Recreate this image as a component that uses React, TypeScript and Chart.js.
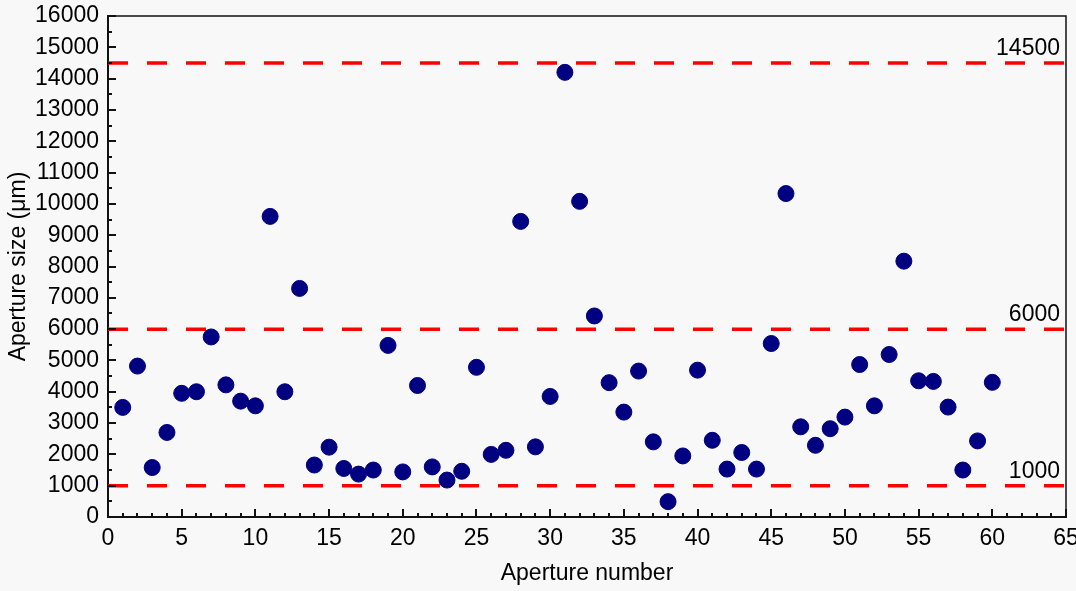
import React, { useEffect, useRef } from "react";
import { Chart, registerables } from "chart.js";

Chart.register(...registerables);

const apertureNumbers = [
  1, 2, 3, 4, 5, 6, 7, 8, 9, 10, 11, 12, 13, 14, 15, 16, 17, 18, 19, 20,
  21, 22, 23, 24, 25, 26, 27, 28, 29, 30, 31, 32, 33, 34, 35, 36, 37, 38, 39, 40,
  41, 42, 43, 44, 45, 46, 47, 48, 49, 50, 51, 52, 53, 54, 55, 56, 57, 58, 59, 60,
];
const apertureSizes = [
  3500, 4820, 1580, 2700, 3950, 4000, 5750, 4220, 3700, 3550,
  9600, 4000, 7300, 1660, 2230, 1550, 1370, 1500, 5480, 1440,
  4200, 1600, 1180, 1460, 4780, 2000, 2130, 9440, 2240, 3850,
  14200, 10080, 6420, 4290, 3350, 4660, 2400, 490, 1950, 4690,
  2450, 1530, 2060, 1530, 5540, 10330, 2880, 2290, 2820, 3190,
  4870, 3550, 5190, 8170, 4350, 4330, 3510, 1500, 2430, 4300,
];
const thresholdValues = [14500, 6000, 1000];
const thresholdLabels = ["14500", "6000", "1000"];
const xRange = [0, 65];
const yRange = [0, 16000];

const FONT = "'Liberation Sans', Arial, sans-serif";

const framePlugin = {
  id: "framePlugin",
  beforeDraw(chart: any) {
    const { ctx } = chart;
    ctx.save();
    ctx.fillStyle = "#f8f8f8";
    ctx.fillRect(0, 0, chart.width, chart.height);
    ctx.restore();
  },
  afterDraw(chart: any) {
    const { ctx, chartArea } = chart;
    const xs = chart.scales.x;
    const ys = chart.scales.y;
    const { left, right, top, bottom } = chartArea;
    ctx.save();
    ctx.strokeStyle = "#111";
    ctx.lineWidth = 1.5;
    ctx.beginPath();
    ctx.moveTo(left, top);
    ctx.lineTo(right, top);
    ctx.lineTo(right, bottom);
    ctx.stroke();
    ctx.lineWidth = 2;
    ctx.beginPath();
    for (let v = xRange[0]; v <= xRange[1]; v += 1) {
      const px = Math.round(xs.getPixelForValue(v));
      const len = v % 5 === 0 ? 8 : 4;
      ctx.moveTo(px, bottom);
      ctx.lineTo(px, bottom - len);
    }
    for (let v = yRange[0]; v <= yRange[1]; v += 500) {
      const py = Math.round(ys.getPixelForValue(v));
      const len = v % 1000 === 0 ? 8 : 4;
      ctx.moveTo(left, py);
      ctx.lineTo(left + len, py);
    }
    ctx.stroke();
    ctx.fillStyle = "#000";
    ctx.font = `23px ${FONT}`;
    ctx.textAlign = "right";
    ctx.textBaseline = "alphabetic";
    thresholdValues.forEach((v, i) => {
      const py = ys.getPixelForValue(v);
      ctx.fillText(thresholdLabels[i], right - 6, py - 8);
    });
    ctx.restore();
  },
};

export default function App() {
  const ref = useRef<HTMLCanvasElement>(null);
  useEffect(() => {
    document.body.style.margin = "0";
    const thresholdSets = thresholdValues.map((v) => ({
      type: "line" as const,
      data: [
        { x: xRange[0], y: v },
        { x: xRange[1], y: v },
      ],
      borderColor: "#ff0000",
      borderWidth: 3.5,
      borderDash: [20, 19],
      pointRadius: 0,
      fill: false,
      order: 2,
    }));
    const chart = new Chart(ref.current!, {
      type: "scatter",
      data: {
        datasets: [
          {
            type: "scatter",
            data: apertureNumbers.map((n, i) => ({ x: n, y: apertureSizes[i] })),
            backgroundColor: "#000080",
            borderColor: "#000080",
            pointRadius: 8,
            pointHoverRadius: 8,
            order: 1,
          } as any,
          ...thresholdSets,
        ],
      },
      options: {
        animation: false,
        responsive: false,
        events: [],
        layout: { padding: { left: 0, right: 10, top: 16, bottom: 0 } },
        plugins: { legend: { display: false }, tooltip: { enabled: false } },
        scales: {
          x: {
            type: "linear",
            min: xRange[0],
            max: xRange[1],
            grid: { display: false, drawTicks: false },
            border: { display: true, color: "#111", width: 2 },
            ticks: {
              stepSize: 5,
              padding: 8,
              color: "#000",
              font: { family: FONT, size: 23 },
              maxRotation: 0,
              autoSkip: false,
              callback: (v: any) => String(v),
            },
            title: {
              display: true,
              text: "Aperture number",
              color: "#000",
              font: { family: FONT, size: 23 },
              padding: { top: 0, bottom: 4 },
            },
            afterFit(scale: any) {
              scale.height = 74;
              scale.paddingLeft = 0;
              scale.paddingRight = 0;
            },
          },
          y: {
            type: "linear",
            min: yRange[0],
            max: yRange[1],
            grid: { display: false, drawTicks: false },
            border: { display: true, color: "#111", width: 2 },
            ticks: {
              stepSize: 1000,
              padding: 9,
              color: "#000",
              font: { family: FONT, size: 23 },
              autoSkip: false,
              callback: (v: any) => String(v),
            },
            title: {
              display: true,
              text: "Aperture size (μm)",
              color: "#000",
              font: { family: FONT, size: 23 },
              padding: { top: 5, bottom: 0 },
            },
            afterFit(scale: any) {
              scale.width = 108;
              scale.paddingTop = 0;
              scale.paddingBottom = 0;
            },
          },
        },
      },
      plugins: [framePlugin],
    } as any);
    return () => chart.destroy();
  }, []);
  return (
    <div style={{ position: "fixed", left: 0, top: 0, width: 1076, height: 591 }}>
      <canvas ref={ref} width={1076} height={591} style={{ display: "block" }} />
    </div>
  );
}
